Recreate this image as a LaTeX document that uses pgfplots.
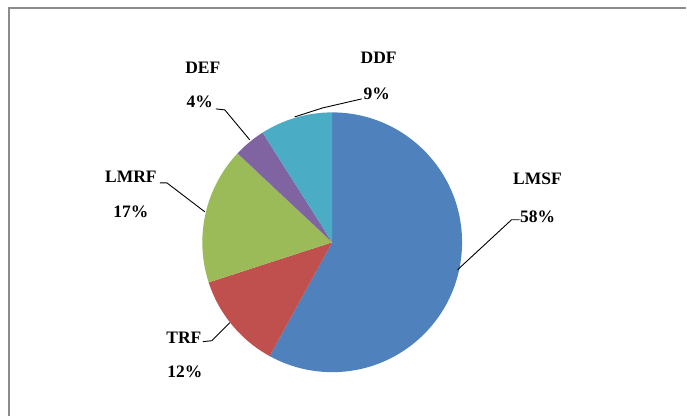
\documentclass[border=0pt]{standalone}
\usepackage{pgfplots}
\pgfplotsset{compat=1.18}
\usepackage{pgfplotstable}
\usepackage{fontspec}
\setmainfont{Liberation Serif}

\definecolor{cLMSF}{HTML}{4F81BD}
\definecolor{cTRF}{HTML}{C0504D}
\definecolor{cLMRF}{HTML}{9BBB59}
\definecolor{cDEF}{HTML}{8064A2}
\definecolor{cDDF}{HTML}{4BACC6}
\definecolor{framegray}{HTML}{8C8C8C}

\pgfplotstableread{
name value col
LMSF 58 cLMSF
TRF 12 cTRF
LMRF 17 cLMRF
DEF 4 cDEF
DDF 9 cDDF
}\piedata

\begin{document}
\begin{tikzpicture}
\begin{axis}[scale only axis, width=687bp, height=416bp,
  xmin=0, xmax=687, ymin=0, ymax=416, y dir=reverse,
  hide axis, clip=false]
\path (axis cs:0,0) (axis cs:687,416);
\pgfplotsextra{%
  \xdef\startang{90}%
  \foreach \i in {0,...,4}{%
    \pgfplotstablegetelem{\i}{value}\of\piedata \let\sliceval\pgfplotsretval
    \pgfplotstablegetelem{\i}{col}\of\piedata \let\slicecol\pgfplotsretval
    \pgfmathsetmacro\endang{\startang-3.6*\sliceval}%
    \fill[\slicecol] (axis cs:332.5,242.5) -- ++(\startang:130bp)
      arc[start angle=\startang, end angle=\endang, radius=130bp] -- cycle;
    \xdef\startang{\endang}%
  }%
  \draw[framegray, line width=1.3bp] (axis cs:9,416) -- (axis cs:9,8) -- (axis cs:687,8);
}
% leader lines
\addplot[black, line width=0.9bp, mark=none] coordinates {(295,117) (323,108) (362,99)};
\addplot[black, line width=0.9bp, mark=none] coordinates {(216,109) (225,110) (250,140)};
\addplot[black, line width=0.9bp, mark=none] coordinates {(458,270) (512,220) (520,220)};
\addplot[black, line width=0.9bp, mark=none] coordinates {(203,342) (212,341) (230,323)};
\addplot[black, line width=0.9bp, mark=none] coordinates {(160,183) (167,183) (205,212)};
% labels
\tikzset{lbl/.style={font=\bfseries\fontsize{17.5bp}{19bp}\selectfont, inner sep=0pt}}
\node[lbl] at (axis cs:379,58) {DDF};
\node[lbl] at (axis cs:377,94) {9\%};
\node[lbl] at (axis cs:203,68) {DEF};
\node[lbl] at (axis cs:200,102) {4\%};
\node[lbl] at (axis cs:538,179) {LMSF};
\node[lbl] at (axis cs:538,217) {58\%};
\node[lbl] at (axis cs:184,338) {TRF};
\node[lbl] at (axis cs:185,372) {12\%};
\node[lbl] at (axis cs:131,177) {LMRF};
\node[lbl] at (axis cs:131,212) {17\%};
\end{axis}
\end{tikzpicture}
\end{document}
